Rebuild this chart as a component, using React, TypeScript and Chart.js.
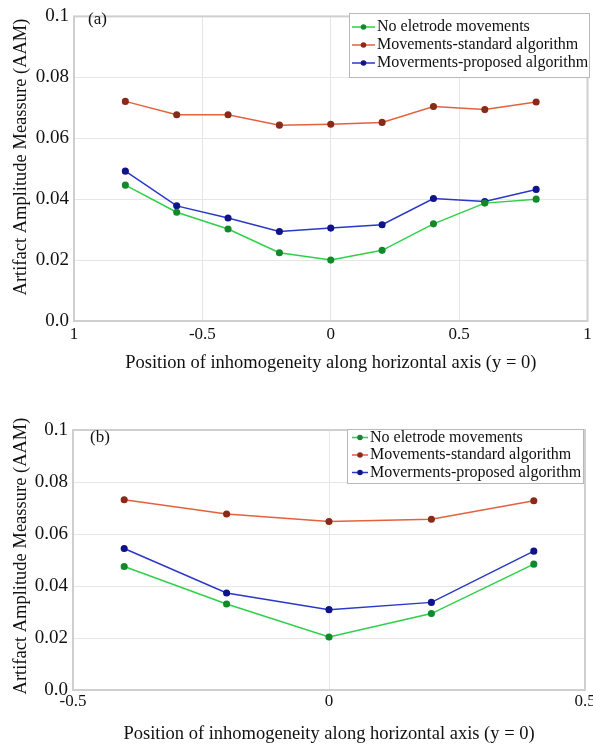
import React, { useEffect, useRef } from 'react';
import { Chart, registerables } from 'chart.js';
Chart.register(...registerables);

// ---- data ----
const xA = [-0.8, -0.6, -0.4, -0.2, 0, 0.2, 0.4, 0.6, 0.8];
const greenA = [0.0446, 0.0357, 0.0302, 0.0224, 0.0200, 0.0232, 0.0319, 0.0387, 0.0400];
const redA = [0.0721, 0.0677, 0.0677, 0.0643, 0.0646, 0.0652, 0.0704, 0.0694, 0.0719];
const blueA = [0.0492, 0.0378, 0.0338, 0.0294, 0.0305, 0.0316, 0.0402, 0.0392, 0.0432];

const xB = [-0.4, -0.2, 0, 0.2, 0.4];
const greenB = [0.0475, 0.0331, 0.0204, 0.0294, 0.0484];
const redB = [0.0732, 0.0677, 0.0648, 0.0657, 0.0728];
const blueB = [0.0544, 0.0373, 0.0309, 0.0337, 0.0534];

const seriesNames = ['No eletrode movements', 'Movements-standard algorithm', 'Moverments-proposed algorithm'];
const yTickValues = [0, 0.02, 0.04, 0.06, 0.08, 0.1];
const yTickLabels = ['0.0', '0.02', '0.04', '0.06', '0.08', '0.1'];
const xTickValuesA = [-1, -0.5, 0, 0.5, 1];
const xTickLabelsA = ['1', '-0.5', '0', '0.5', '1'];
const xTickValuesB = [-0.5, 0, 0.5];
const xTickLabelsB = ['-0.5', '0', '0.5'];
const xTitle = 'Position of inhomogeneity along horizontal axis (y = 0)';
const yTitle = 'Artifact Amplitude Meassure (AAM)';

const FONT = '"Liberation Serif", "Times New Roman", serif';
const lineColors = ['#2ed04a', '#e4613e', '#2a38c8'];
const pointColors = ['#138a2a', '#8a2a1a', '#10148a'];

const pts = (xs: number[], ys: number[]) => xs.map((x, i) => ({ x, y: ys[i] }));

const framePlugin = {
  id: 'frame',
  beforeDatasetsDraw(chart: any) {
    const { ctx, chartArea: a } = chart;
    ctx.save();
    ctx.strokeStyle = '#cfcfcf';
    ctx.lineWidth = 2;
    ctx.strokeRect(a.left, a.top, a.right - a.left, a.bottom - a.top);
    ctx.restore();
  },
  afterDatasetsDraw(chart: any, _args: any, opts: any) {
    const { ctx } = chart;
    ctx.save();
    // y axis title
    ctx.save();
    ctx.translate(opts.yTitleX, opts.yTitleY);
    ctx.rotate(-Math.PI / 2);
    ctx.fillStyle = '#111';
    ctx.font = `18.5px ${FONT}`;
    ctx.textAlign = 'center';
    ctx.textBaseline = 'middle';
    ctx.fillText(yTitle, 0, 0);
    ctx.restore();
    // panel label
    ctx.fillStyle = '#111';
    ctx.font = `17px ${FONT}`;
    ctx.textBaseline = 'middle';
    ctx.textAlign = 'left';
    ctx.fillText(opts.panel, opts.panelX, opts.panelY);
    // legend
    const L = opts.legend;
    ctx.fillStyle = '#ffffff';
    ctx.fillRect(L.x, L.y, L.w, L.h);
    ctx.strokeStyle = '#b8b8b8';
    ctx.lineWidth = 1;
    ctx.strokeRect(L.x + 0.5, L.y + 0.5, L.w, L.h);
    chart.data.datasets.forEach((ds: any, i: number) => {
      const y = L.rows[i];
      ctx.strokeStyle = ds.borderColor;
      ctx.lineWidth = 1.5;
      ctx.beginPath();
      ctx.moveTo(L.lineX0, y);
      ctx.lineTo(L.lineX1, y);
      ctx.stroke();
      ctx.fillStyle = ds.pointBackgroundColor;
      ctx.beginPath();
      ctx.arc((L.lineX0 + L.lineX1) / 2, y, 2.8, 0, Math.PI * 2);
      ctx.fill();
      ctx.fillStyle = '#111';
      ctx.font = `16px ${FONT}`;
      ctx.textBaseline = 'middle';
      ctx.fillText(ds.label, L.textX, y);
    });
    ctx.restore();
  },
};

function makeConfig(p: {
  xs: number[];
  series: number[][];
  xTicks: number[];
  xLabels: string[];
  xMin: number;
  xMax: number;
  H: number;
  plotLeft: number;
  plotRight: number;
  plotTop: number;
  plotBottom: number;
  xTickPad: number;
  titleBottomPad: number;
  frame: any;
}): any {
  return {
    type: 'line',
    data: {
      datasets: p.series.map((ys, i) => ({
        label: seriesNames[i],
        data: pts(p.xs, ys),
        borderColor: lineColors[i],
        backgroundColor: lineColors[i],
        pointBackgroundColor: pointColors[i],
        pointBorderColor: pointColors[i],
        pointRadius: 2.8,
        borderWidth: 1.5,
        tension: 0,
      })),
    },
    options: {
      responsive: false,
      animation: false,
      layout: { padding: { left: 0, right: 593 - p.plotRight, top: p.plotTop, bottom: 0 } },
      plugins: {
        legend: { display: false },
        tooltip: { enabled: false },
        frame: p.frame,
      },
      scales: {
        x: {
          type: 'linear',
          min: p.xMin,
          max: p.xMax,
          afterFit: (s: any) => {
            s.height = p.H - p.plotBottom;
            s.paddingLeft = 0;
            s.paddingRight = 0;
          },
          afterBuildTicks: (s: any) => { s.ticks = p.xTicks.map((v) => ({ value: v })); },
          grid: { color: '#e6e6e6', drawTicks: false, lineWidth: 1 },
          border: { display: false },
          ticks: {
            padding: p.xTickPad,
            color: '#111',
            font: { family: FONT, size: 17 },
            maxRotation: 0,
            autoSkip: false,
            callback: (v: number) => {
              const k = p.xTicks.findIndex((t) => Math.abs(t - v) < 1e-9);
              return k >= 0 ? p.xLabels[k] : '';
            },
          },
          title: {
            display: true,
            text: xTitle,
            color: '#111',
            font: { family: FONT, size: 18.5 },
            padding: { top: 0, bottom: p.titleBottomPad },
          },
        },
        y: {
          type: 'linear',
          min: 0,
          max: 0.1,
          afterFit: (s: any) => { s.width = p.plotLeft; },
          afterBuildTicks: (s: any) => { s.ticks = yTickValues.map((v) => ({ value: v })); },
          grid: { color: '#e6e6e6', drawTicks: false, lineWidth: 1 },
          border: { display: false },
          ticks: {
            padding: 5,
            color: '#111',
            font: { family: FONT, size: 19 },
            callback: (v: number) => {
              const k = yTickValues.findIndex((t) => Math.abs(t - v) < 1e-9);
              return k >= 0 ? yTickLabels[k] : '';
            },
          },
          title: { display: false },
        },
      },
    },
    plugins: [framePlugin],
  };
}

function ChartCanvas({ config, width, height, top }: { config: any; width: number; height: number; top: number }) {
  const ref = useRef<HTMLCanvasElement | null>(null);
  useEffect(() => {
    if (!ref.current) return;
    const c = new Chart(ref.current, config);
    return () => c.destroy();
  }, []);
  return (
    <canvas
      ref={ref}
      width={width}
      height={height}
      style={{ position: 'absolute', left: 0, top, width, height, display: 'block' }}
    />
  );
}

export default function App() {
  const HA = 380;
  const HB = 366;
  const cfgA = makeConfig({
    xs: xA, series: [greenA, redA, blueA], xTicks: xTickValuesA, xLabels: xTickLabelsA,
    xMin: -1, xMax: 1, H: HA, plotLeft: 74, plotRight: 590, plotTop: 13, plotBottom: 321,
    xTickPad: 3, titleBottomPad: 6,
    frame: {
      yTitleX: 21, yTitleY: 157,
      panel: '(a)', panelX: 88, panelY: 20,
      legend: { x: 349, y: 13, w: 240, h: 64, rows: [27, 45, 63], lineX0: 352, lineX1: 375, textX: 377 },
    },
  });
  const cfgB = makeConfig({
    xs: xB, series: [greenB, redB, blueB], xTicks: xTickValuesB, xLabels: xTickLabelsB,
    xMin: -0.5, xMax: 0.5, H: HB, plotLeft: 73, plotRight: 585, plotTop: 50, plotBottom: 310,
    xTickPad: 1, titleBottomPad: 1,
    frame: {
      yTitleX: 21, yTitleY: 176,
      panel: '(b)', panelX: 90, panelY: 58,
      legend: { x: 347, y: 49, w: 236, h: 54, rows: [57.5, 75, 92.5], lineX0: 352, lineX1: 368, textX: 370 },
    },
  });
  return (
    <div style={{ position: 'absolute', left: 0, top: 0, width: 593, height: 746, background: '#fff' }}>
      <ChartCanvas config={cfgA} width={593} height={HA} top={0} />
      <ChartCanvas config={cfgB} width={593} height={HB} top={380} />
    </div>
  );
}
